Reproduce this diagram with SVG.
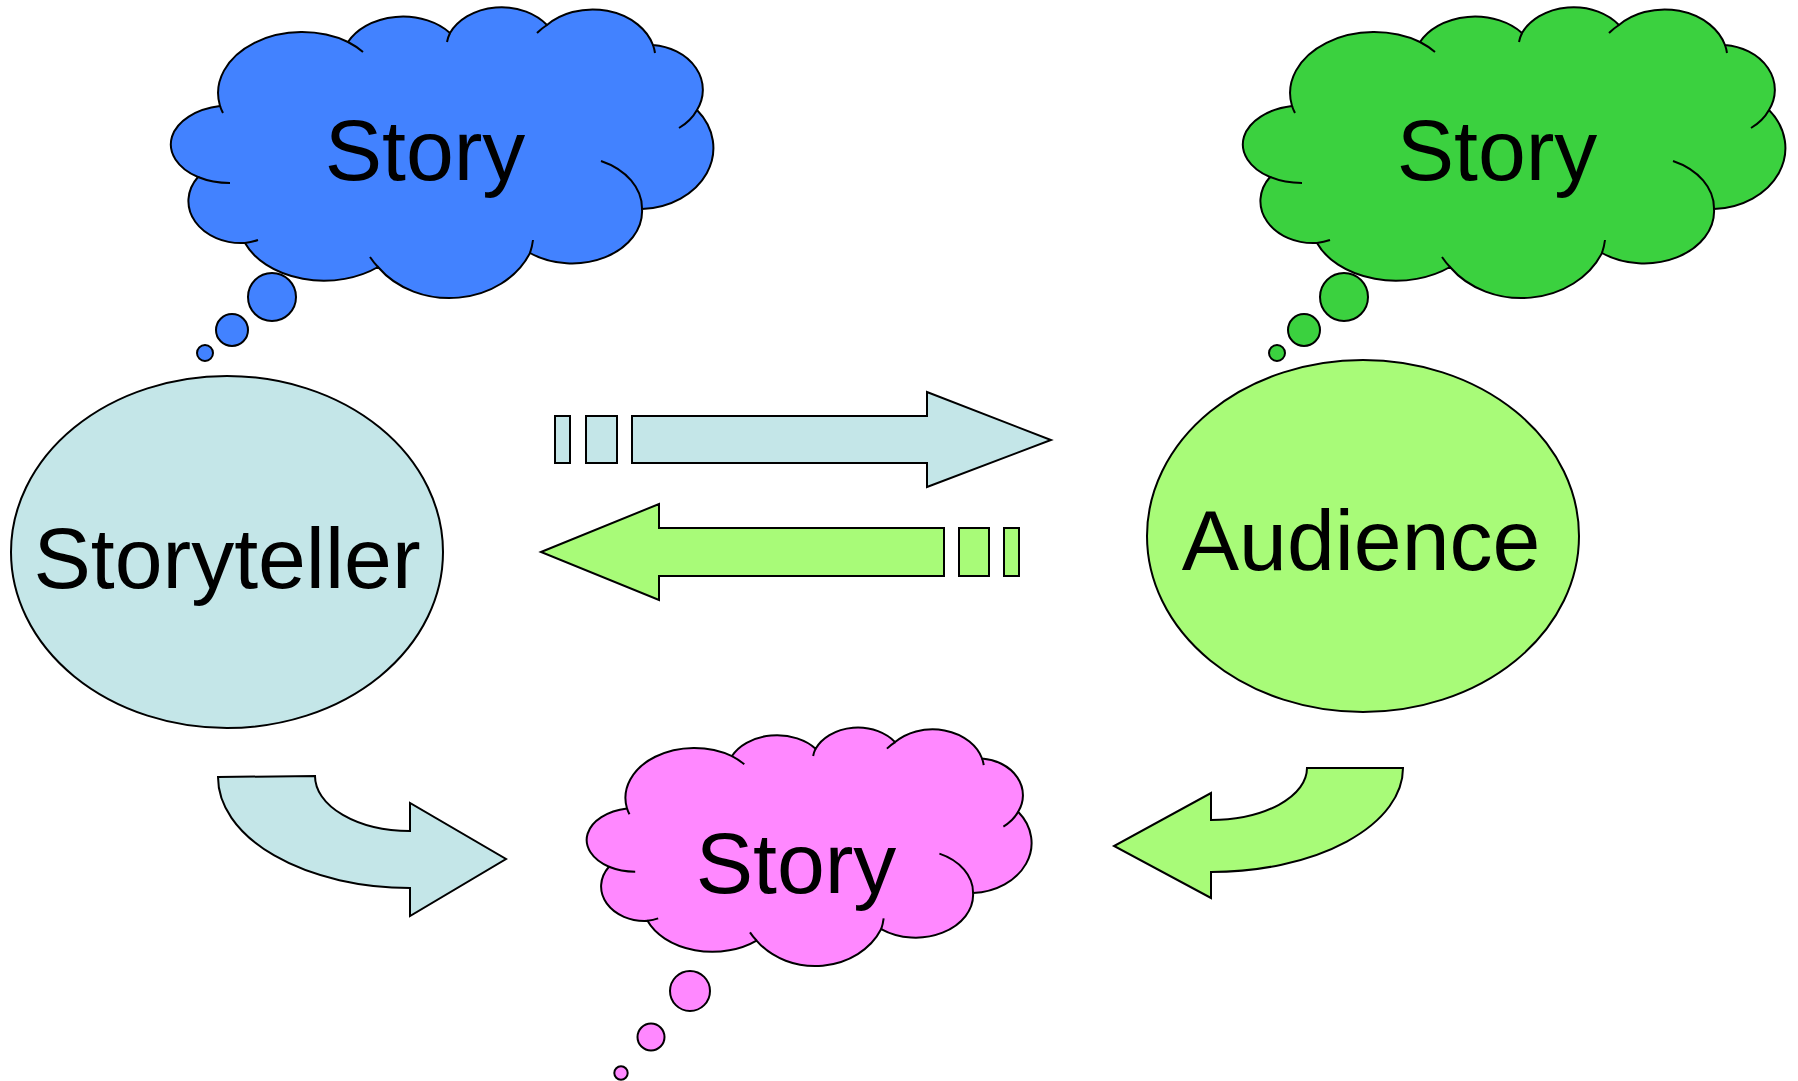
<svg xmlns="http://www.w3.org/2000/svg" xmlns:xlink="http://www.w3.org/1999/xlink" width="1798" height="1081" viewBox="0 0 1798 1081">
<style>
  .ol { stroke: #000; stroke-width: 2; stroke-linejoin: miter; }
  .notch { fill: none; stroke: #000; stroke-width: 2; stroke-linecap: butt; }
  .lbl { font-family: "Liberation Sans", Arial, sans-serif; font-size: 86px; fill: #000; text-anchor: middle; }
  .blue { fill: #4282FF; }
  .dgreen { fill: #3BD13F; }
  .pink { fill: #FF88FF; }
  .cyan { fill: #C4E6E8; }
  .lgreen { fill: #A8FB78; }
</style>
<defs>
  <g id="cloud">
    <path class="ol" vector-effect="non-scaling-stroke" d="M220,106 A60,39 0 0 0 198,177 A53,42 0 0 0 245,243 A85,60 0 0 0 378,267 A88,75 0 0 0 530,253 A70,52 0 0 0 642,209 A75,61 0 0 0 697,110 A55,45 0 0 0 653,45 A63,50 0 0 0 547,25 A57,45 0 0 0 450,33 A61,45 0 0 0 348,42 A84,61 0 0 0 220,106 Z"/>
    <path class="notch" vector-effect="non-scaling-stroke" d="M198,177 A60,39 0 0 0 230,183 M245,243 A53,42 0 0 0 258,240 M370,257 A88,75 0 0 0 378,267 M530,253 A88,75 0 0 0 533,240 M642,209 A70,52 0 0 0 601,161 M679,128 A55,45 0 0 0 697,110 M655,53 A63,50 0 0 0 653,45 M547,25 A63,50 0 0 0 537,33 M450,33 A57,45 0 0 0 447,42 M363,52 A84,61 0 0 0 348,42 M220,106 A84,61 0 0 0 223,113"/>
  </g>
</defs>

<g id="connectors">
  <g id="arrow-to-audience" class="cyan">
    <rect class="ol" x="555" y="416" width="15" height="47"/>
    <rect class="ol" x="586" y="416" width="31" height="47"/>
    <path class="ol" d="M632,416 L927,416 L927,392 L1051,440 L927,487 L927,463 L632,463 Z"/>
  </g>
  <g id="arrow-to-storyteller" class="lgreen">
    <path class="ol" d="M541,552 L659,504 L659,528 L944,528 L944,576 L659,576 L659,600 Z"/>
    <rect class="ol" x="959" y="528" width="30" height="48"/>
    <rect class="ol" x="1004" y="528" width="15" height="48"/>
  </g>
  <path id="curve-storyteller-story" class="cyan ol" d="M218,777 L315,776 A95,55 0 0 0 410,831 L410,803 L506,859 L410,916 L410,888 A192,111 0 0 1 218,777 Z"/>
  <path id="curve-audience-story" class="lgreen ol" d="M1403,768 L1307,768 A96,52 0 0 1 1211,820 L1211,793 L1114,846 L1211,898 L1211,872 A192,104 0 0 0 1403,768 Z"/>
</g>

<g id="storyteller-thought">
  <use xlink:href="#cloud" href="#cloud" class="blue"/>
  <circle class="blue ol" cx="272" cy="297" r="24"/>
  <circle class="blue ol" cx="232" cy="330" r="16"/>
  <circle class="blue ol" cx="205" cy="353" r="8"/>
  <text class="lbl" x="425" y="180">Story</text>
</g>

<g id="audience-thought">
  <use xlink:href="#cloud" href="#cloud" class="dgreen" transform="translate(1072,0)"/>
  <circle class="dgreen ol" cx="1344" cy="297" r="24"/>
  <circle class="dgreen ol" cx="1304" cy="330" r="16"/>
  <circle class="dgreen ol" cx="1277" cy="353" r="8"/>
  <text class="lbl" x="1497" y="180">Story</text>
</g>

<g id="storyteller">
  <ellipse class="cyan ol" cx="227" cy="552" rx="216" ry="176"/>
  <text class="lbl" x="227" y="588">Storyteller</text>
</g>

<g id="audience">
  <ellipse class="lgreen ol" cx="1363" cy="536" rx="216" ry="176"/>
  <text class="lbl" x="1361" y="570">Audience</text>
</g>

<g id="shared-story">
  <use xlink:href="#cloud" href="#cloud" class="pink" transform="translate(446.6,721.6) scale(0.82)"/>
  <circle class="pink ol" cx="690" cy="991" r="20"/>
  <circle class="pink ol" cx="651" cy="1037" r="13.5"/>
  <circle class="pink ol" cx="621" cy="1073" r="6.7"/>
  <text class="lbl" x="796" y="893">Story</text>
</g>
</svg>
